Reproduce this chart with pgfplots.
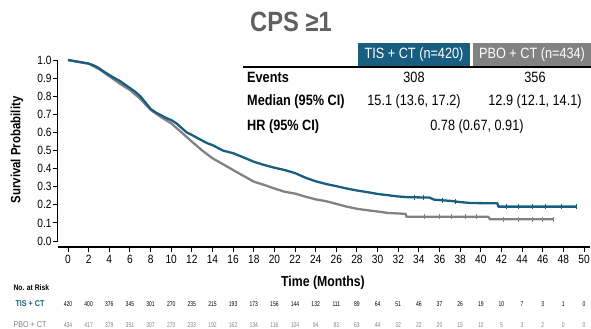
\documentclass[border=0pt]{standalone}
\usepackage{fontspec}
\setmainfont{Liberation Sans}[FakeStretch=0.85]
\newfontfamily\narrow{Liberation Sans}[FakeStretch=0.72]
\usepackage{pgfplots}
\pgfplotsset{compat=1.18}
\definecolor{tisblue}{RGB}{24,94,128}
\definecolor{pbogray}{RGB}{130,130,130}
\definecolor{titlegray}{RGB}{96,96,96}

\pgfplotstableread{
m s
0 1.0
0.5 0.995
1 0.99
1.5 0.985
2 0.98
2.5 0.97
3 0.955
3.5 0.935
4 0.917
4.5 0.90
5 0.885
5.5 0.865
6 0.845
6.5 0.825
7 0.80
7.5 0.765
8 0.73
8.5 0.71
9 0.695
9.5 0.68
10 0.668
10.5 0.65
11 0.625
11.5 0.60
12 0.586
12.5 0.57
13 0.555
13.5 0.54
14 0.53
14.5 0.515
15 0.50
16 0.485
17 0.462
18 0.438
19 0.42
20 0.405
21 0.392
22 0.375
23 0.35
24 0.33
25 0.315
26 0.303
27 0.29
28 0.279
29 0.27
30 0.26
31 0.253
32 0.246
33 0.242
35 0.24
35.5 0.228
37 0.222
38 0.215
39 0.21
41.6 0.208
41.7 0.19
49.3 0.19
}\tisdata

\pgfplotstableread{
m s
0 1.0
1 0.99
2 0.98
3 0.95
4 0.91
5 0.87
6 0.834
6.5 0.81
7 0.785
7.5 0.755
8 0.725
9 0.685
10 0.65
11 0.60
12 0.549
13 0.50
14 0.457
15 0.425
16 0.392
17 0.36
18 0.328
19 0.31
20 0.29
21 0.272
22 0.262
23 0.245
24 0.23
25 0.22
26 0.205
27 0.19
28 0.178
29 0.17
30 0.163
31 0.155
32.7 0.15
32.8 0.134
40.7 0.134
40.9 0.12
47.0 0.12
}\pbodata

\pgfplotstableread{
m s
33.6 0.241
34.4 0.241
36.3 0.226
37.5 0.219
42.5 0.19
43.6 0.19
45.0 0.19
46.3 0.19
47.8 0.19
49.3 0.19
}\tiscens

\pgfplotstableread{
m s
34.5 0.134
36.0 0.134
37.2 0.134
38.5 0.134
39.6 0.134
42.2 0.12
43.6 0.12
45.0 0.12
46.0 0.12
47.0 0.12
}\pbocens

\begin{document}
\begin{tikzpicture}
\begin{axis}[
  at={(57.7bp,-241bp)}, anchor=south west,
  scale only axis, width=532.5bp, height=181bp,
  xmin=-1, xmax=50.6, ymin=0, ymax=1,
  axis lines=left, axis x line shift=6bp,
  axis line style={line width=1.2bp, -},
  xtick={0,2,...,50},
  ytick={0,0.1,0.2,0.3,0.4,0.5,0.6,0.7,0.8,0.9,1.0},
  tick align=outside, major tick length=5bp,
  tick style={line width=1bp, black},
  ticklabel style={font=\fontsize{12}{12}\selectfont},
  /pgf/number format/assume math mode=true,
  yticklabel style={inner xsep=1bp, /pgf/number format/fixed, /pgf/number format/fixed zerofill, /pgf/number format/precision=1},
  clip=false,
]
\addplot[pbogray, line width=2.3bp, line join=round] table[x=m,y=s] {\pbodata};
\addplot[tisblue, line width=2.3bp, line join=round] table[x=m,y=s] {\tisdata};
\addplot[pbogray, only marks, mark=|, mark size=2.5bp, mark options={line width=0.9bp}] table[x=m,y=s] {\pbocens};
\addplot[tisblue, only marks, mark=|, mark size=2.5bp, mark options={line width=0.9bp}] table[x=m,y=s] {\tiscens};
\end{axis}

% title
\node[font=\fontsize{28}{28}\selectfont\bfseries, text=titlegray] at (291bp,-22bp) {CPS ≥1};
% summary table
\fill[tisblue] (358bp,-43bp) rectangle (470bp,-67bp);
\fill[pbogray] (473bp,-43bp) rectangle (591bp,-67bp);
\draw[line width=1.5bp] (243bp,-67bp) -- (591bp,-67bp);
\begin{scope}[every node/.style={font=\fontsize{15}{15}\selectfont, inner sep=0pt}]
\node[text=white] at (414bp,-55bp) {TIS + CT (n=420)};
\node[text=white] at (532bp,-55bp) {PBO + CT (n=434)};
\node[anchor=west, font=\fontsize{15}{15}\selectfont\bfseries] at (247bp,-77bp) {Events};
\node[anchor=west, font=\fontsize{15}{15}\selectfont\bfseries] at (247bp,-102bp) {Median (95\% CI)};
\node[anchor=west, font=\fontsize{15}{15}\selectfont\bfseries] at (247bp,-127bp) {HR (95\% CI)};
\node at (414bp,-77bp) {308};
\node at (535bp,-77bp) {356};
\node at (414bp,-102bp) {15.1 (13.6, 17.2)};
\node at (535bp,-102bp) {12.9 (12.1, 14.1)};
\node at (477bp,-127bp) {0.78 (0.67, 0.91)};
\end{scope}

% axis labels
\node[rotate=90, font=\fontsize{13.5}{13.5}\selectfont\bfseries] at (17bp,-150bp) {Survival Probability};
\node[font=\fontsize{14.5}{14.5}\selectfont\bfseries] at (323bp,-283bp) {Time (Months)};

% risk table
\node[anchor=west, font=\fontsize{8}{8}\selectfont\bfseries] at (10bp,-288bp) {No. at Risk};
\node[font=\fontsize{8.5}{8.5}\selectfont\bfseries, text=tisblue] at (30bp,-304bp) {TIS + CT};
\node[font=\fontsize{8.5}{8.5}\selectfont, text=pbogray] at (30bp,-325bp) {PBO + CT};
\foreach \v [count=\i from 0] in {420,400,376,345,301,270,235,215,193,173,156,144,132,111,89,64,51,46,37,26,19,10,7,3,1,0}
  \node[font=\narrow\fontsize{7}{7}\selectfont] at ({(68+20.64*\i)*1bp},-304bp) {\v};
\foreach \v [count=\i from 0] in {434,417,379,351,307,270,233,192,162,134,116,104,94,83,63,44,32,22,20,15,12,5,3,2,0,0}
  \node[font=\narrow\fontsize{7}{7}\selectfont, text=pbogray] at ({(68+20.64*\i)*1bp},-325bp) {\v};

\pgfresetboundingbox
\useasboundingbox (0,0) rectangle (591bp,-329bp);
\end{tikzpicture}
\end{document}
